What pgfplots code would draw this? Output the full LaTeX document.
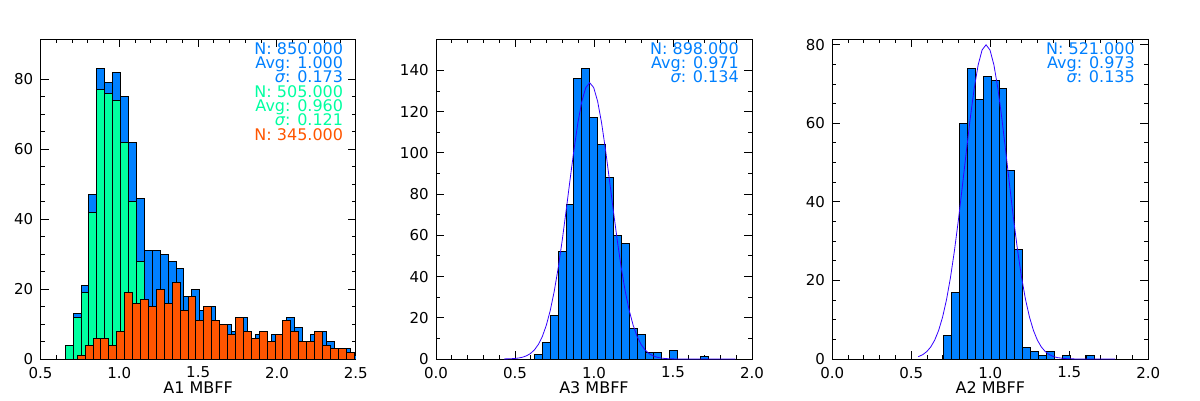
\documentclass[border=0pt]{standalone}
\usepackage{fontspec}
\setmainfont{DejaVu Sans}
\usepackage{pgfplots}
\pgfplotsset{compat=1.18}
\definecolor{hblue}{RGB}{0,128,255}
\definecolor{hgreen}{RGB}{0,255,160}
\definecolor{horange}{RGB}{255,85,0}
\definecolor{hcurve}{RGB}{50,0,255}
\newcommand{\tickfont}{\fontsize{15}{18}\selectfont}
\newcommand{\statfont}{\fontsize{16}{19}\selectfont}
\tikzset{stat/.style={anchor=base east, inner sep=0pt, font=\statfont, text=#1}}
\pgfplotsset{
  hist/.style={
    scale only axis, height=319.7pt, anchor=south west,
    tick align=inside, major tick length=8pt, minor tick length=4pt,
    tick style={black, line width=1pt},
    axis line style={line width=1pt},
    ymin=0,
    /pgf/number format/assume math mode=true,
    scaled ticks=false,
    xticklabel style={font=\tickfont, inner sep=0pt, yshift=-7.7pt,
      /pgf/number format/.cd, fixed, fixed zerofill, precision=1},
    yticklabel style={font=\tickfont, inner sep=0pt, xshift=-7.2pt},
    xlabel style={font=\statfont, at={(axis description cs:0.5,0)}, anchor=north, inner sep=0pt, yshift=-22.7pt},
    minor x tick num=4,
  },
  bars/.style={ybar interval, draw=black, line width=1pt, fill=#1},
}
\begin{document}
\begin{tikzpicture}
\useasboundingbox (0,0) rectangle (1200pt,400pt);
% ---------- Panel 1 ----------
\begin{axis}[hist, at={(40.5pt,41pt)}, width=315.3pt,
  xmin=0.5, xmax=2.5, ymax=91.4,
  xtick={0.5,1.0,1.5,2.0,2.5}, ytick={0,20,40,60,80}, minor y tick num=3,
  xlabel={A1 MBFF}]
\addplot[bars=hblue] coordinates {
(0.657,4) (0.7072,13) (0.7574,21) (0.8076,47) (0.8578,83) (0.908,79) (0.9582,82) (1.0084,75) (1.0586,62) (1.1088,46) (1.159,31) (1.2092,31) (1.2594,30) (1.3096,28) (1.3598,26) (1.41,18) (1.4602,20) (1.5104,14) (1.5606,15) (1.6108,10) (1.661,10) (1.7112,8) (1.7614,12) (1.8116,6) (1.8618,7) (1.912,5) (1.9622,7) (2.0124,7) (2.0626,12) (2.1128,9) (2.163,5) (2.2132,7) (2.2634,8) (2.3136,5) (2.3638,3) (2.414,3) (2.4642,1) (2.5144,0)};
\addplot[bars=hgreen] coordinates {
(0.657,4) (0.7072,12) (0.7574,19) (0.8076,42) (0.8578,77) (0.908,76) (0.9582,74) (1.0084,62) (1.0586,45) (1.1088,28) (1.159,15) (1.2092,12) (1.2594,10) (1.3096,8) (1.3598,6) (1.41,5) (1.4602,3) (1.5104,2) (1.5606,1) (1.6108,1) (1.661,0)};
\addplot[bars=horange] coordinates {
(0.733,1) (0.7832,4) (0.8334,6) (0.8836,6) (0.9338,4) (0.984,8) (1.0342,19) (1.0844,16) (1.1346,17) (1.1848,15) (1.235,20) (1.2852,16) (1.3354,22) (1.3856,14) (1.4358,18) (1.486,11) (1.5362,15) (1.5864,11) (1.6366,10) (1.6868,7) (1.737,12) (1.7872,8) (1.8374,6) (1.8876,8) (1.9378,5) (1.988,7) (2.0382,11) (2.0884,8) (2.1386,5) (2.1888,5) (2.239,8) (2.2892,4) (2.3394,3) (2.3896,3) (2.4398,2) (2.49,0)};
\node[stat=hblue]   at ([xshift=-12.5pt,yshift=-14.7pt]rel axis cs:1,1) {N: 850.000};
\node[stat=hblue]   at ([xshift=-12.5pt,yshift=-29pt]rel axis cs:1,1) {Avg: 1.000};
\node[stat=hblue]   at ([xshift=-12.5pt,yshift=-43.4pt]rel axis cs:1,1) {{\itshape σ}: 0.173};
\node[stat=hgreen]  at ([xshift=-12.5pt,yshift=-57.7pt]rel axis cs:1,1) {N: 505.000};
\node[stat=hgreen]  at ([xshift=-12.5pt,yshift=-72pt]rel axis cs:1,1) {Avg: 0.960};
\node[stat=hgreen]  at ([xshift=-12.5pt,yshift=-86.4pt]rel axis cs:1,1) {{\itshape σ}: 0.121};
\node[stat=horange] at ([xshift=-12.5pt,yshift=-100.7pt]rel axis cs:1,1) {N: 345.000};
\end{axis}
% ---------- Panel 2 ----------
\begin{axis}[hist, at={(436pt,41pt)}, width=316pt,
  xmin=0, xmax=2, ymax=155.1,
  xtick={0,0.5,1.0,1.5,2.0}, ytick={0,20,...,140}, minor y tick num=1,
  xlabel={A3 MBFF}]
\addplot[bars=hblue] coordinates {
(0.622,2) (0.6722,8) (0.7224,21) (0.7726,52) (0.8228,75) (0.873,136) (0.9232,141) (0.9734,117) (1.0236,104) (1.0738,88) (1.124,60) (1.1742,56) (1.2244,15) (1.2746,12) (1.3248,3) (1.375,3) (1.4252,0) (1.4754,4) (1.5256,0) (1.5758,0) (1.626,0) (1.6762,1) (1.7264,0)};
\addplot[hcurve, line width=0.8pt] coordinates {
(0.431,0.04) (0.448,0.06) (0.473,0.13) (0.498,0.25) (0.523,0.48) (0.548,0.88) (0.573,1.56) (0.598,2.67) (0.623,4.42) (0.648,7.08) (0.673,10.93) (0.698,16.31) (0.723,23.51) (0.748,32.73) (0.773,43.99) (0.798,57.11) (0.823,71.62) (0.848,86.72) (0.873,101.43) (0.898,114.57) (0.923,124.99) (0.948,131.69) (0.973,134.0) (0.998,131.69) (1.023,124.99) (1.048,114.57) (1.073,101.43) (1.098,86.72) (1.123,71.62) (1.148,57.11) (1.173,43.99) (1.198,32.73) (1.223,23.51) (1.248,16.31) (1.273,10.93) (1.298,7.08) (1.323,4.42) (1.348,2.67) (1.373,1.56) (1.398,0.88) (1.423,0.48) (1.448,0.25) (1.473,0.13) (1.498,0.06) (1.523,0.03) (1.6,0) (1.894,0)};
\node[stat=hblue] at ([xshift=-13pt,yshift=-14.7pt]rel axis cs:1,1) {N: 898.000};
\node[stat=hblue] at ([xshift=-13pt,yshift=-29pt]rel axis cs:1,1) {Avg: 0.971};
\node[stat=hblue] at ([xshift=-13pt,yshift=-43.4pt]rel axis cs:1,1) {{\itshape σ}: 0.134};
\end{axis}
% ---------- Panel 3 ----------
\begin{axis}[hist, at={(832.3pt,41pt)}, width=316pt,
  xmin=0, xmax=2, ymax=81.4,
  xtick={0,0.5,1.0,1.5,2.0}, ytick={0,20,40,60,80}, minor y tick num=3,
  xlabel={A2 MBFF}]
\addplot[bars=hblue] coordinates {
(0.704,6) (0.7542,17) (0.8044,60) (0.8546,74) (0.9048,66) (0.955,72) (1.0052,71) (1.0554,69) (1.1056,48) (1.1558,28) (1.206,3) (1.2562,2) (1.3064,1) (1.3566,2) (1.4068,0) (1.457,1) (1.5072,0) (1.5574,0) (1.6076,1) (1.6578,0)};
\addplot[hcurve, line width=0.8pt] coordinates {
(0.544,0.6) (0.548,0.65) (0.573,1.13) (0.598,1.89) (0.623,3.06) (0.648,4.80) (0.673,7.28) (0.698,10.67) (0.723,15.13) (0.748,20.77) (0.773,27.56) (0.798,35.38) (0.823,43.93) (0.848,52.76) (0.873,61.29) (0.898,68.87) (0.923,74.85) (0.948,78.68) (0.973,80.0) (0.998,78.68) (1.023,74.85) (1.048,68.87) (1.073,61.29) (1.098,52.76) (1.123,43.93) (1.148,35.38) (1.173,27.56) (1.198,20.77) (1.223,15.13) (1.248,10.67) (1.273,7.28) (1.298,4.80) (1.323,3.06) (1.348,1.89) (1.373,1.13) (1.398,0.65) (1.423,0.36) (1.473,0.1) (1.55,0) (1.79,0)};
\node[stat=hblue] at ([xshift=-13.3pt,yshift=-14.7pt]rel axis cs:1,1) {N: 521.000};
\node[stat=hblue] at ([xshift=-13.3pt,yshift=-29pt]rel axis cs:1,1) {Avg: 0.973};
\node[stat=hblue] at ([xshift=-13.3pt,yshift=-43.4pt]rel axis cs:1,1) {{\itshape σ}: 0.135};
\end{axis}
\end{tikzpicture}
\end{document}
